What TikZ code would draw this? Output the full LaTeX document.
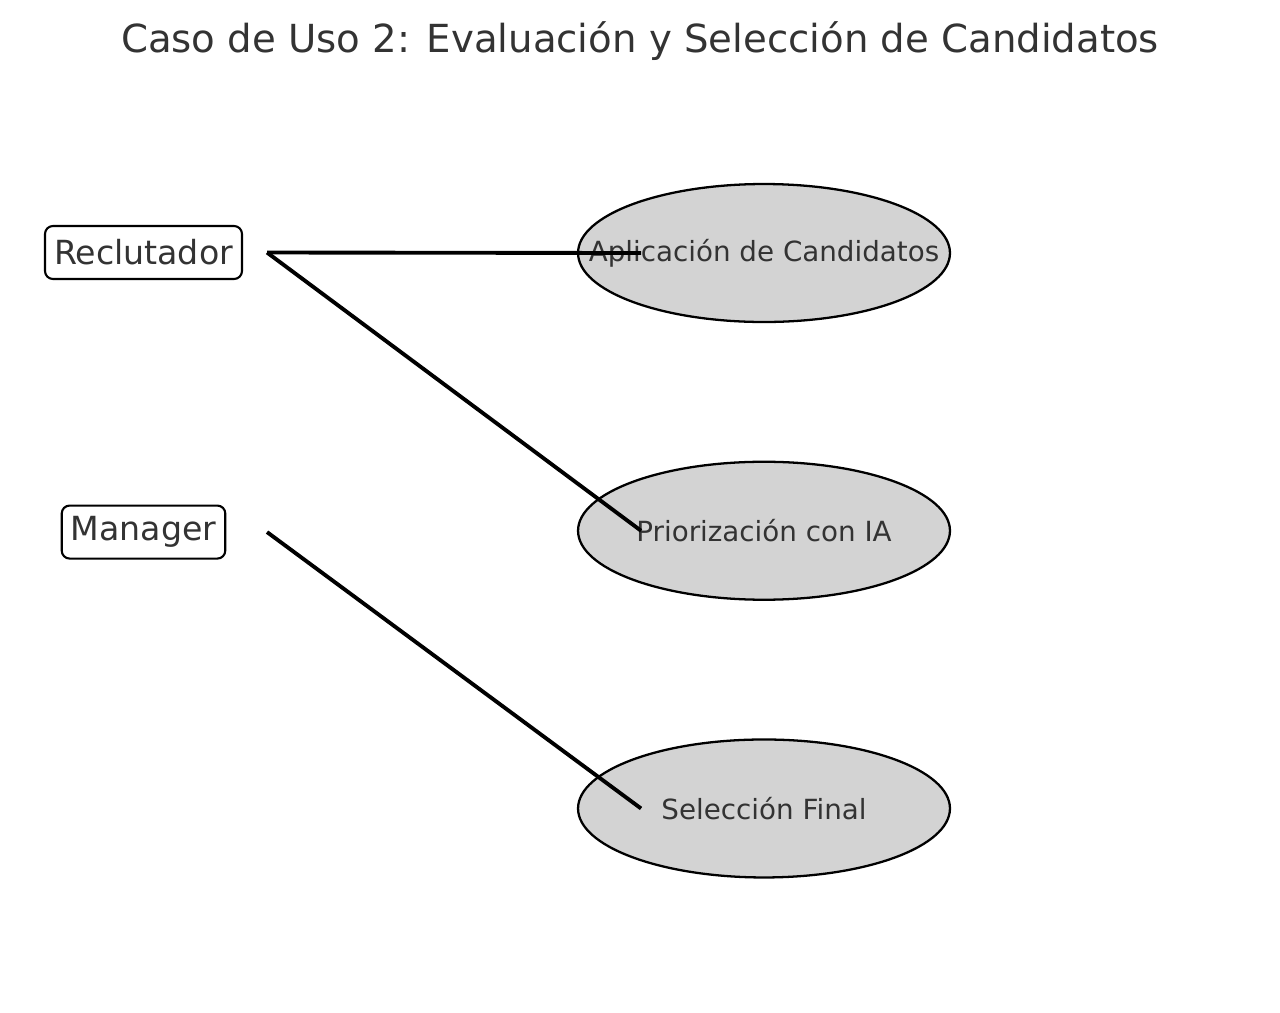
\documentclass[tikz,border=0pt]{standalone}
\usepackage{fontspec}
\setmainfont{DejaVu Sans}
\usepackage{xcolor}
\definecolor{textgray}{HTML}{333333}
\definecolor{casefill}{HTML}{D3D3D3}
\usetikzlibrary{positioning}
\usetikzlibrary{shapes.geometric}

\tikzset{
  actor/.style={draw=black, line width=1.2pt, rounded corners=4.5pt, fill=white, text=textgray,
    font=\fontsize{18.9}{22}\selectfont, inner xsep=0.18cm, inner ysep=0pt, minimum height=1.06cm},
  usecase/.style={ellipse, draw=black, line width=1.3pt, fill=casefill, inner sep=0pt,
    minimum width=7.44cm, minimum height=2.76cm,
    label={[text=textgray, font=\fontsize{15.8}{19}\selectfont]center:#1}},
  link/.style={draw=black, line width=2.2pt}
}

\begin{document}
\begin{tikzpicture}[x=0.02cm, y=-0.02cm]

  % frame
  \useasboundingbox (0,0) rectangle (1280,1012);

  % title
  \node[text=textgray, font=\fontsize{22}{26}\selectfont] (title) at (640,41) {Caso de Uso 2: Evaluación y Selección de Candidatos};

  % actors
  \node[actor] (rec) at (143.5,252.5) {Reclutador};
  \node[actor, below=4.49cm of rec] (man) {Manager};

  % use cases
  \node[usecase={Aplicación de Candidatos}] (apl) at (764,253) {};
  \node[usecase={Priorización con IA}, below=2.75cm of apl] (pri) {};
  \node[usecase={Selección Final}, below=2.75cm of pri] (sel) {};

  % ports
  \coordinate (rec-port) at ([xshift=0.48cm]rec.east);
  \coordinate (man-port) at (rec-port |- man);
  \coordinate (apl-port) at ([xshift=-2.46cm]apl.center);
  \coordinate (pri-port) at ([xshift=-2.46cm]pri.center);
  \coordinate (sel-port) at ([xshift=-2.46cm]sel.center);

  % links
  \draw[link] (rec-port) -- (apl-port);
  \draw[link] (rec-port) -- (pri-port);
  \draw[link] (man-port) -- (sel-port);

\end{tikzpicture}
\end{document}
